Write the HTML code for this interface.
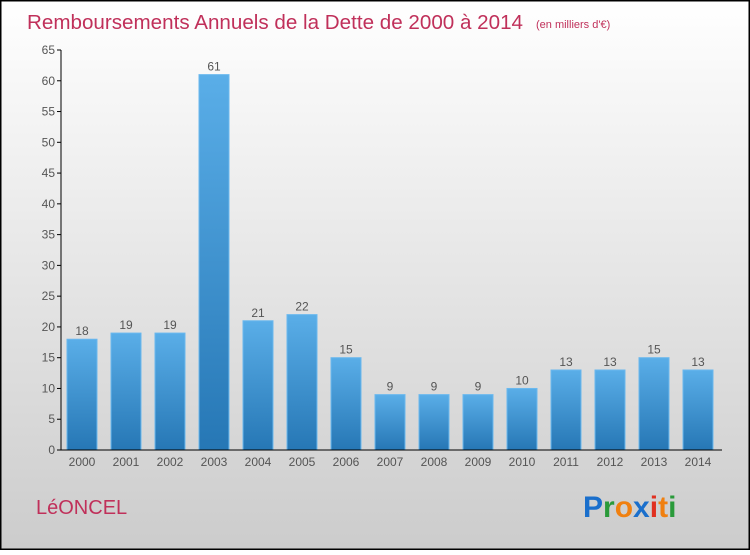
<!DOCTYPE html>
<html><head><meta charset="utf-8"><style>
body{margin:0;width:750px;height:550px;overflow:hidden;font-family:"Liberation Sans",sans-serif}
</style></head><body>
<svg id="chart" width="750" height="550" xmlns="http://www.w3.org/2000/svg">
<defs>
<linearGradient id="bg" x1="0" y1="0" x2="0" y2="1"><stop offset="0" stop-color="#ffffff"/><stop offset="1" stop-color="#cccccc"/></linearGradient>
<linearGradient id="bar" x1="0" y1="0" x2="0" y2="1"><stop offset="0" stop-color="#5aaee8"/><stop offset="1" stop-color="#2677b5"/></linearGradient>
</defs>
<rect x="0.5" y="0.5" width="749" height="549" fill="url(#bg)" stroke="#000" stroke-width="2"/>
<text x="27" y="29" font-size="20" fill="#c0305a" textLength="496" lengthAdjust="spacingAndGlyphs">Remboursements Annuels de la Dette de 2000 à 2014</text>
<text x="536" y="28" font-size="11" fill="#c0305a">(en milliers d'€)</text>
<g id="yaxis"></g>
<g id="bars"></g>
<g id="xaxis"></g>
<text x="36" y="514" font-size="20" fill="#c0305a">LéONCEL</text>
<g font-size="30" font-weight="bold" font-family="'Liberation Sans',sans-serif">
<text x="583" y="517" fill="#1a6fcc">P<tspan fill="#2a9a3a">r</tspan><tspan fill="#f08010">o</tspan><tspan fill="#1a6fcc">x</tspan><tspan fill="#e03020">i</tspan><tspan fill="#f08010">t</tspan><tspan fill="#2a9a3a">i</tspan></text>
</g>
</svg>
<script>
const categories=["2000","2001","2002","2003","2004","2005","2006","2007","2008","2009","2010","2011","2012","2013","2014"];
const values=[18,19,19,61,21,22,15,9,9,9,10,13,13,15,13];
const yTicks=[0,5,10,15,20,25,30,35,40,45,50,55,60,65];
const NS="http://www.w3.org/2000/svg";
const x0=62,slot=44,y0=450,yTop=50,yMax=65;
const y=v=>y0-(v/yMax)*(y0-yTop);
const xs=i=>x0+slot*i+5;
function mk(t,a,p){const e=document.createElementNS(NS,t);for(const k in a)e.setAttribute(k,a[k]);p.appendChild(e);return e;}
const ya=document.getElementById('yaxis'),ba=document.getElementById('bars'),xa=document.getElementById('xaxis');
mk('line',{x1:61,y1:yTop,x2:61,y2:y0,stroke:'#000'},ya);
yTicks.forEach(t=>{
 mk('line',{x1:57,y1:y(t),x2:61,y2:y(t),stroke:'#000'},ya);
 const tx=mk('text',{x:55,y:y(t)+4,'font-size':12,fill:'#555','text-anchor':'end'},ya);tx.textContent=t;
 
 
});
mk('line',{x1:61,y1:y0,x2:722,y2:y0,stroke:'#000'},xa);
categories.forEach((c,i)=>{
 const r=mk('rect',{x:xs(i),y:y(values[i]),width:30,height:y0-y(values[i]),fill:'url(#bar)',stroke:'#6ab8ee','stroke-width':1},ba);
 
 
 const l=mk('text',{x:xs(i)+15,y:y(values[i])-4,'font-size':12,fill:'#555','text-anchor':'middle'},ba);l.textContent=values[i];
 
 
 const xl=mk('text',{x:xs(i)+15,y:466,'font-size':12,fill:'#555','text-anchor':'middle'},xa);xl.textContent=c;
 
 
});
</script>
</body></html>
